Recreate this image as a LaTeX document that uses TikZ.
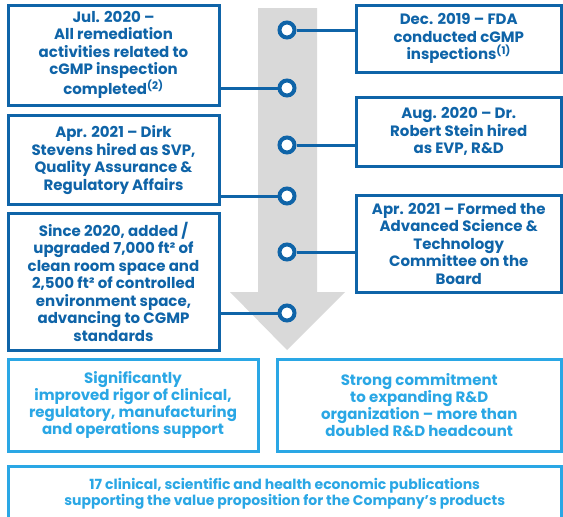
\documentclass[tikz,border=0pt]{standalone}
\usepackage{fontspec}
\setmainfont{Poppins}
\definecolor{evblue}{HTML}{0F64A8}
\definecolor{resblue}{HTML}{2AA7E5}
\definecolor{arrowgray}{HTML}{D9D9D9}

\begin{document}
\begin{tikzpicture}[x=1pt,y=-1pt,
  evbox/.style={draw=evblue,line width=3pt,fill=white,text=evblue,align=center,inner sep=2pt,
    font=\bfseries\fontsize{15}{17.5}\selectfont},
  resbox/.style={draw=resblue,line width=3pt,fill=white,text=resblue,align=center,inner sep=2pt,
    font=\bfseries\fontsize{15}{17}\selectfont},
  dot/.style={circle,draw=evblue,line width=4pt,fill=white,minimum size=15pt,inner sep=0pt},
  link/.style={evblue,line width=3pt}]
\useasboundingbox (0,0) rectangle (563,517);
%
\fill [arrowgray] (258,8) -- (317,8) -- (317,292) -- (345,292) -- (287,350) -- (230,292) -- (258,292) -- cycle;
%
\node [dot] (d1) at (287,30) {};
\node [dot] (d2) at (287,88) {};
\node [dot] (d3) at (287,145) {};
\node [dot] (d4) at (287,196) {};
\node [dot] (d5) at (287,252) {};
\node [dot] (d6) at (287,313) {};
%
\node [evbox,minimum width=211pt,minimum height=100pt] (jul20) at (113.5,55) {Jul. 2020 --\\All remediation\\activities related to\\cGMP inspection\\completed\textsuperscript{(2)}};
\node [evbox,minimum width=211pt,minimum height=89pt] (apr21a) at (113.5,160) {Apr. 2021 -- Dirk\\Stevens hired as SVP,\\Quality Assurance \&\\Regulatory Affairs};
\node [evbox,minimum width=211pt,minimum height=137pt] (since20) at (113.5,281.5) {Since 2020, added /\\upgraded 7,000 ft² of\\clean room space and\\2,500 ft² of controlled\\environment space,\\advancing to CGMP\\standards};
%
\node [evbox,minimum width=205.5pt,minimum height=67pt] (dec19) at (458.75,38.5) {Dec. 2019 -- FDA\\conducted cGMP\\inspections\textsuperscript{(1)}};
\node [evbox,minimum width=205.5pt,minimum height=69pt] (aug20) at (458.75,131.5) {Aug. 2020 -- Dr.\\Robert Stein hired\\as EVP, R\&D};
\node [evbox,minimum width=205.5pt,minimum height=97pt] (apr21b) at (458.75,243.5) {Apr. 2021 -- Formed the\\Advanced Science \&\\Technology\\Committee on the\\Board};
%
\draw [link] (dec19.west |- d1) -- (d1);
\draw [link] (jul20.east |- d2) -- (d2);
\draw [link] (aug20.west |- d3) -- (d3);
\draw [link] (apr21a.east |- d4) -- (d4);
\draw [link] (apr21b.west |- d5) -- (d5);
\draw [link] (since20.east |- d6) -- (d6);
%
\node [resbox,minimum width=250pt,minimum height=92pt] (rigor) at (133,405) {Significantly\\improved rigor of clinical,\\regulatory, manufacturing\\and operations support};
\node [resbox,minimum width=284.5pt,minimum height=92pt] (rnd) at (419.25,405) {Strong commitment\\to expanding R\&D\\organization -- more than\\doubled R\&D headcount};
\node [resbox,minimum width=553.5pt,minimum height=56pt,font=\bfseries\fontsize{14}{16}\selectfont] (pubs) at (284.75,494) {17 clinical, scientific and health economic publications\\supporting the value proposition for the Company’s products};
\end{tikzpicture}
\end{document}
